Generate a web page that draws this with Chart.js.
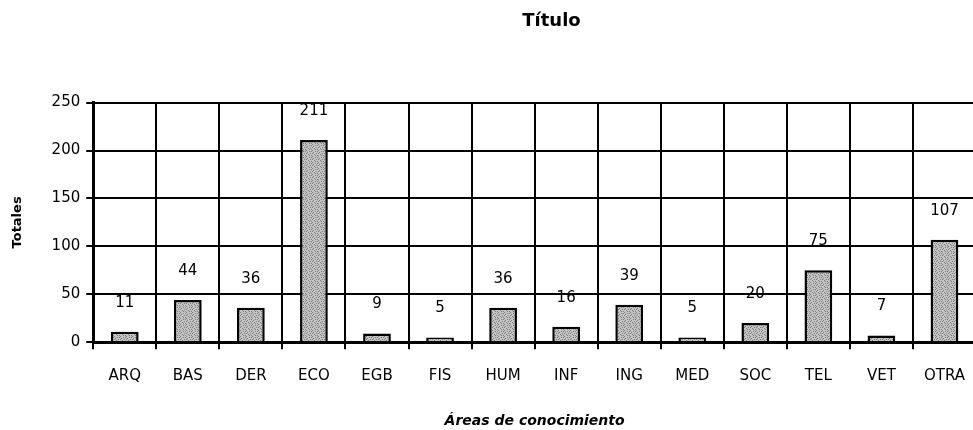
<!DOCTYPE html>
<html>
<head>
<meta charset="utf-8">
<script src="https://cdn.jsdelivr.net/npm/chart.js@4.4.1/dist/chart.umd.min.js"></script>
<style>
  html, body { margin: 0; padding: 0; background: #fff; overflow: hidden; }
  #wrap { width: 983px; height: 430px; }
</style>
</head>
<body>
<div id="wrap"><canvas id="canvas"></canvas></div>
<script>
// chart data
var areas = ['ARQ', 'BAS', 'DER', 'ECO', 'EGB', 'FIS', 'HUM', 'INF', 'ING', 'MED', 'SOC', 'TEL', 'VET', 'OTRA'];
var totales = [11, 44, 36, 211, 9, 5, 36, 16, 39, 5, 20, 75, 7, 107];
var yTicks = [0, 50, 100, 150, 200, 250];

var FONT = "'Comic Sans MS', 'DejaVu Sans', sans-serif";

// stippled grey fill like the scanned bars
function makePattern() {
  var p = document.createElement('canvas');
  p.width = 6; p.height = 6;
  var c = p.getContext('2d');
  c.fillStyle = '#c4c4c4';
  c.fillRect(0, 0, 6, 6);
  var dots = [[0,0],[3,1],[1,2],[4,3],[2,4],[5,5],[0,3],[3,5],[5,1]];
  c.fillStyle = '#7a7a7a';
  dots.forEach(function(d){ c.fillRect(d[0], d[1], 1, 1); });
  return c.createPattern(p, 'repeat');
}

// numbers above each bar
var valueLabels = {
  id: 'valueLabels',
  afterDatasetsDraw: function(chart) {
    var ctx = chart.ctx;
    var meta = chart.getDatasetMeta(0);
    ctx.save();
    ctx.font = '15px ' + FONT;
    ctx.fillStyle = '#000';
    ctx.textAlign = 'center';
    ctx.textBaseline = 'middle';
    meta.data.forEach(function(bar, i){
      ctx.fillText(String(totales[i]), bar.x, bar.y - 29);
    });
    ctx.restore();
  }
};

// the original title sits centred over a wider chart, so push it right
var shiftTitle = {
  id: 'shiftTitle',
  afterLayout: function(chart) {
    var t = chart.titleBlock;
    if (t) { t.left += 55; t.right += 55; }
  }
};

const ctx = document.getElementById('canvas').getContext('2d');
const myChart = new Chart(ctx, {
  type: 'bar',
  data: {
    labels: areas,
    datasets: [{
      data: totales,
      backgroundColor: makePattern(),
      borderColor: '#000',
      borderWidth: 2.5,
      barPercentage: 0.44,
      categoryPercentage: 1
    }]
  },
  options: {
    responsive: true,
    maintainAspectRatio: false,
    animation: false,
    layout: { padding: { left: 10, right: 0, top: 0, bottom: 0 } },
    plugins: {
      legend: { display: false },
      tooltip: { enabled: false },
      title: {
        display: true,
        text: 'Título',
        color: '#000',
        font: { family: FONT, size: 18, weight: 'bold' },
        padding: { top: 11, bottom: 70 }
      }
    },
    scales: {
      x: {
        grid: { color: '#000', lineWidth: 2, tickLength: 7, offset: true },
        border: { color: '#000', width: 3 },
        ticks: { color: '#000', font: { family: FONT, size: 15 }, padding: 18, maxRotation: 0, autoSkip: false },
        title: {
          display: true,
          text: 'Áreas de conocimiento',
          color: '#000',
          font: { family: FONT, size: 14, weight: 'bold', style: 'italic' },
          padding: { top: 10, bottom: 0 }
        }
      },
      y: {
        min: 0,
        max: 250,
        afterBuildTicks: function(scale) {
          scale.ticks = yTicks.map(function(v){ return { value: v }; });
        },
        grid: { color: '#000', lineWidth: 2, tickLength: 7 },
        border: { color: '#000', width: 3 },
        ticks: { color: '#000', font: { family: FONT, size: 15 }, padding: 6 },
        title: {
          display: true,
          text: 'Totales',
          color: '#000',
          font: { family: FONT, size: 13, weight: 'bold' },
          padding: { top: 0, bottom: 20 }
        }
      }
    }
  },
  plugins: [valueLabels, shiftTitle]
});
</script>
</body>
</html>
